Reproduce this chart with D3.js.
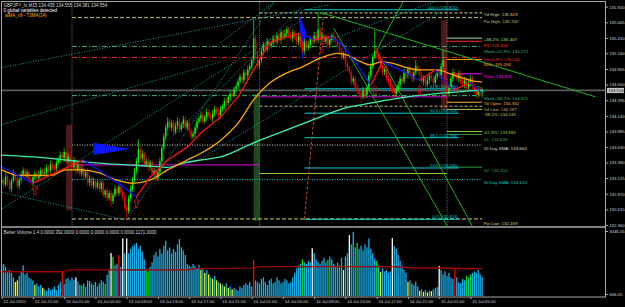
<!DOCTYPE html>
<html>
<head>
<meta charset="utf-8">
<script src="https://d3js.org/d3.v7.min.js"></script>
<style>
html, body { margin: 0; padding: 0; background: #000; }
svg { display: block; }
text { font-family: "Liberation Sans", Arial, sans-serif; }
</style>
</head>
<body>
<svg id="chart" width="625" height="307"></svg>
<script>
// ---- data (GBPJPY M15, 12-15 Jul 2010) ----
const firstBar = '2010-07-12T17:00';
const firstOpen = 133.05;
const closes = [
  133.10,133.02,133.15,133.05,132.95,133.08,133.20,133.12,133.00,133.10,
  133.18,133.25,133.15,133.22,133.10,133.05,133.14,133.20,133.12,133.18,
  133.25,133.20,133.22,133.30,133.25,133.35,133.30,133.28,133.38,133.42,
  133.50,133.45,133.55,133.40,133.48,133.38,133.30,133.42,133.25,133.35,
  133.20,133.28,133.15,133.22,133.05,133.12,133.00,133.08,132.98,133.05,
  132.95,133.05,132.85,132.92,132.80,132.88,132.75,132.85,132.95,132.88,
  132.98,132.90,132.82,132.65,132.58,132.80,132.95,133.10,133.25,133.40,
  133.60,133.45,133.52,133.35,133.40,133.30,133.38,133.20,133.25,133.12,
  133.22,133.40,133.62,133.80,133.95,134.05,133.95,134.02,133.88,133.98,
  134.05,133.92,134.00,134.08,133.95,134.03,133.90,133.80,133.85,133.95,
  134.05,134.10,134.15,134.05,134.12,134.20,134.15,134.10,134.18,134.25,
  134.20,134.15,134.25,134.30,134.38,134.35,134.45,134.50,134.48,134.58,
  134.62,134.70,134.78,134.72,134.85,134.80,134.90,134.95,135.05,135.40,
  135.15,134.95,135.05,135.20,135.30,135.22,135.35,135.28,135.32,135.40,
  135.35,135.45,135.38,135.50,135.42,135.48,135.55,135.45,135.40,135.50,
  135.42,135.35,135.45,135.30,135.20,135.35,135.25,135.30,135.40,135.35,
  135.45,135.38,135.55,135.40,135.45,135.35,135.42,135.30,135.38,135.45,
  135.40,135.35,135.28,135.20,135.10,135.15,135.00,134.92,134.85,134.70,
  134.75,134.60,134.55,134.50,134.45,134.55,134.48,134.60,134.80,134.95,
  135.10,135.20,135.15,135.05,134.95,134.85,134.90,134.75,134.70,134.60,
  134.55,134.50,134.58,134.65,134.75,134.70,134.85,134.80,134.90,134.82,
  134.75,134.85,134.95,134.90,134.80,134.70,134.75,134.65,134.72,134.80,
  134.75,134.68,134.78,134.85,134.80,134.95,135.05,134.70,134.50,134.60,
  134.75,134.85,134.80,134.75,134.82,134.70,134.65,134.72,134.60,134.68,
  134.75,134.62,134.55,134.48,134.58,134.50,134.55
];
// wick lengths in pips above / below the body
const wickUp = [
  5,4,6,3,5,4,6,3,5,4, 6,5,4,5,3,6,4,5,4,6, 5,4,6,5,4,6,5,4,6,5, 6,5,6,4,5,6,4,5,3,5,
  4,6,5,4,6,5,4,6,3,5, 6,4,5,3,6,4,5,4,6,5, 4,5,3,6,4,5,6,5,4,6, 16,5,6,4,5,6,4,5,4,6,
  5,6,4,5,6,7,5,6,4,5, 6,5,4,6,5,4,6,5,4,6, 5,4,6,5,4,6,5,4,6,5, 4,6,5,4,6,5,4,6,5,4,
  6,5,4,6,5,4,6,5,4,32, 6,5,4,6,5,4,6,5,4,6, 5,4,6,5,4,6,5,4,6,5, 4,6,5,4,6,5,4,6,5,4,
  6,5,29,4,6,5,4,6,5,4, 6,5,4,6,5,4,6,5,4,6, 5,4,6,5,4,6,5,4,6,5, 4,34,5,4,6,5,4,6,5,4,
  6,5,4,6,5,4,6,5,4,6, 5,4,10,5,4,6,5,4,6,5, 4,6,5,4,6,5,16,4,6,5, 4,6,5,4,6,5,4,6,5,4,
  6,5,4,6,5,4,6
];
const wickDn = [
  4,6,3,5,4,6,3,5,4,6, 5,4,6,3,5,4,6,5,4,5, 4,6,5,4,6,5,4,6,5,4, 5,4,6,5,4,6,5,4,6,5,
  4,5,6,4,5,6,4,5,6,4, 5,6,4,5,6,4,10,5,4,6, 5,4,6,5,13,4,6,5,4,6, 5,4,6,5,4,6,5,4,6,5,
  4,6,5,4,6,5,4,6,5,4, 6,5,4,6,5,4,6,5,4,6, 5,4,6,5,4,6,5,4,6,5, 4,6,5,4,6,5,4,6,5,4,
  6,5,4,6,5,4,6,5,4,6, 5,6,4,5,6,4,5,6,4,5, 6,5,4,6,5,4,6,5,4,6, 5,4,6,5,4,6,5,4,6,5,
  4,6,5,4,6,5,4,6,5,4, 6,5,4,6,5,4,6,5,4,6, 5,4,6,5,10,4,6,5,4,6, 5,4,6,5,4,6,5,4,6,5,
  4,8,5,4,6,5,4,6,5,4, 6,5,4,6,5,4,6,5,4,6, 5,4,6,5,4,6,5,4,12,5, 4,6,5,4,6,5,4,6,5,4,
  6,5,4,6,5,4,6
];
const volumes = [
  1900,1950,1850,1700,1750,1650,1500,1350,1400,1550, 1700,1900,1600,1650,1500,1450,1400,1250,1300,1200,
  1250,1150,1100,1050,1150,1080,1120,1200,1080,1250, 1350,1680,1280,1450,1480,1400,1500,1420,1500,1350,
  1250,1230,1300,1180,1400,1380,1300,1250,1350,1200, 1300,1400,1350,1280,1580,1750,2310,2180,1900,1950,
  2250,1850,2800,2300,2800,2300,2450,2550,2600,2650, 2450,2550,2350,2100,1750,1700,1850,2000,2250,2350,
  2200,2450,2300,2550,2720,2400,2500,2300,2450,2350, 2600,2780,2500,2400,2250,1950,1900,1850,1950,1880,
  1800,1920,1750,1800,1650,1750,1600,1500,1450,1550, 1400,1350,1300,1250,1200,1300,1150,1200,1100,1150,
  1100,1050,1200,1150,1250,1300,1250,1350,1200,2080, 1400,1350,1300,1450,1500,1350,1250,1400,1450,1300,
  1350,1500,1400,1300,1350,1450,1400,1300,1350,1500, 1650,1800,1900,1950,2100,2000,1950,2050,2000,2470,
  2310,2100,2000,1950,2050,2150,2000,2080,2200,2100, 1950,1850,2000,1900,2150,1750,2200,2300,2910,2600,
  3020,2500,2650,2450,2550,2400,2600,2500,2800,2450, 2300,2150,2050,1900,1680,1800,1700,1750,1650,1700,
  2810,2550,2450,2250,2050,1900,1750,1650,1350,1400, 1300,1250,1350,1200,1050,1100,1020,1080,1000,1060,
  1040,1100,1150,1180,1880,1750,1600,1700,1550,1650, 1500,1450,1770,1500,1350,1300,1450,1400,1550,1500,
  1600,1650,1700,1650,1750,1600,1500
];
const yellowBars = [7,8,17,21,102,104,106,108,110,112,114,116,118,175,194,208,214,216,218,220];
const greenBars = [41,53,57,74,75,154,167,182,192,238,240];
const whiteBars = [38,56,62,64,159,178,200,224];
const redBars = [31,60,129,232];
const volMaBars = [0,30,35,95,100,128,132,200,210,246];
const volMaValues = [1690,1690,1750,1750,1800,1810,1860,1860,1820,1790];

// moving averages: bar index / price
const fastMaBars = [0,16,30,42,50,61,69,76,85,95,102,112,121,129,137,146,153,160,168,173,181,189,195,204,214,222,231,240,246];
const fastMaValues = [133.31,133.04,133.25,133.42,133.25,133.01,132.82,133.14,133.42,133.63,133.86,134.12,134.45,134.89,135.33,135.43,135.49,135.38,135.43,135.34,135.02,134.64,135.02,134.89,134.72,134.89,134.56,134.68,134.51];
const midMaBars = [0,9,25,33,40,50,59,67,76,85,95,102,112,121,129,137,146,154,163,172,177,184,189,194,200,208,214,223,231,240,246];
const midMaValues = [133.26,133.17,133.17,133.26,133.26,133.21,133.09,133.04,133.09,133.26,133.42,133.53,133.74,134.02,134.40,134.67,134.84,134.94,135.08,135.16,135.13,135.02,134.97,135.02,135.00,134.92,134.89,134.89,134.81,134.72,134.69];
const slowMaBars = [0,16,33,50,64,76,85,93,102,112,129,146,163,177,184,198,208,225,246];
const slowMaValues = [133.50,133.47,133.42,133.37,133.34,133.32,133.30,133.37,133.42,133.47,133.70,133.91,134.12,134.28,134.32,134.40,134.45,134.51,134.56];

const dayStarts = ['2010-07-13T02:00','2010-07-14T02:00','2010-07-15T02:00'];
const bid = 134.554;
const priceTicks = [135.920,135.665,135.410,135.160,134.905,134.650,134.395,134.140,133.885,133.630,133.380,133.125,132.870,132.615,132.360];
const volTicks = [946.05, 3046.05];

const levelNames = ['Yd High','Pw High','+38.2%','R1','Week+61.8%','Week R1','50%','Pivot','Week+38.2%','Td Open','Yd Low','-38.2%','-61.8%','S1','20 Day SMA','S2','50 Day SMA','Pw Low'];
const levelValues = [135.819,135.742,135.407,135.356,135.272,135.092,135.058,134.826,134.470,134.362,134.297,134.245,133.885,133.838,133.664,133.304,133.103,132.459];
// earlier-day pivot / support lines: from, to, price, kind
const pastLevels = [
  ['2010-07-13T02:00','2010-07-14T02:00',133.34,'pivot'],
  ['2010-07-14T02:00','2010-07-15T02:00',134.45,'pivot'],
  ['2010-07-14T02:00','2010-07-15T02:00',133.20,'s2']
];

const fibRatios = ['100.0','61.8','50.0','38.2','23.6','0.0'];
const fibPrices = [135.870,134.581,134.183,133.784,133.290,132.453];
const fibFrom = '2010-07-14T07:45', fibTo = '2010-07-15T03:30', fibHighTime = '2010-07-14T10:15';

// chart objects: [time1, price1, time2, price2]
const channelLines = [
  ['2010-07-12T16:45',134.92,'2010-07-14T11:00',135.95],
  ['2010-07-12T16:45',133.99,'2010-07-13T21:00',135.02],
  ['2010-07-12T16:45',132.60,'2010-07-14T07:15',135.69],
  ['2010-07-13T09:00',132.44,'2010-07-14T04:00',136.03],
  ['2010-07-12T16:45',132.90,'2010-07-13T09:00',132.44],
  ['2010-07-13T18:30',133.44,'2010-07-15T01:00',135.82],
  ['2010-07-13T14:30',133.75,'2010-07-14T07:30',135.92],
  ['2010-07-13T21:00',135.33,'2010-07-14T04:15',136.03],
  ['2010-07-14T11:00',135.38,'2010-07-15T01:00',136.03]
];
const greenLines = [
  ['2010-07-14T11:30',135.57,'2010-07-15T02:00',132.35],
  ['2010-07-14T17:00',135.21,'2010-07-15T05:15',132.34],
  ['2010-07-14T17:00',135.21,'2010-07-14T20:30',136.03],
  ['2010-07-14T09:45',135.83,'2010-07-15T21:00',134.45]
];
const bluePolys = [
  [['2010-07-13T04:45',133.70],['2010-07-13T09:30',133.60],['2010-07-13T04:45',133.50]],
  [['2010-07-14T07:00',135.82],['2010-07-14T08:00',135.49],['2010-07-14T07:30',135.05],['2010-07-14T07:15',135.36]]
];
// highlighted hour before each day break: from, to, top, bottom, direction
const boxes = [
  ['2010-07-13T01:15','2010-07-13T02:00',133.99,132.60,'down'],
  ['2010-07-14T01:15','2010-07-14T02:00',134.50,132.43,'up'],
  ['2010-07-15T01:15','2010-07-15T02:00',135.70,134.23,'down']
];
const arrowTimes = ['2010-07-12T21:15','2010-07-13T10:15','2010-07-14T10:00','2010-07-14T16:45','2010-07-14T22:30'];
const arrowPrices = [133.01,132.80,135.33,134.64,134.64];

// ---- styles ----
const levelStyle = {
  'Yd High':    { color: '#D8D090', dash: '3,2', from: 1, dy: 1.8 },
  'Pw High':    { color: '#B8C070', dash: '4,2', from: 0, dy: 3.6 },
  '+38.2%':     { color: '#8FE08F', dash: null, from: 2, dy: 1.4 },
  'R1':         { color: '#FF2A2A', dash: null, from: 2, dy: 4.2 },
  'Week+61.8%': { color: '#3CB371', dash: '5,2,1,2', from: 0, dy: 4.6 },
  'Week R1':    { color: '#E8282C', dash: '5,2,1,2', from: 0, dy: 1.6 },
  '50%':        { color: '#FFA500', dash: null, from: 2, dy: 5.2 },
  'Pivot':      { color: '#FF00FF', dash: null, from: 2, dy: 3 },
  'Week+38.2%': { color: '#3CB371', dash: '5,2,1,2', from: 0, dy: 3.2 },
  'Td Open':    { color: '#FFB02E', dash: null, from: 2, dy: 1.6 },
  'Yd Low':     { color: '#BDB76B', dash: '3,2', from: 1, dy: 2.8 },
  '-38.2%':     { color: '#C2C25A', dash: null, from: 2, dy: 4.8 },
  '-61.8%':     { color: '#9ACD32', dash: null, from: 2, dy: 1.4 },
  'S1':         { color: '#2E9E3E', dash: null, from: 2, dy: 4.8 },
  '20 Day SMA': { color: '#D8D8D8', dash: '1,1.5', from: 0, dy: 3.3 },
  'S2':         { color: '#2E9E3E', dash: null, from: 2, dy: 3.5 },
  '50 Day SMA': { color: '#00CED1', dash: '1,1.5', from: 0, dy: 3.3 },
  'Pw Low':     { color: '#D8CC80', dash: '4,2', from: 0, dy: 4.3 }
};
const UP = '#00FF00', DOWN = '#FF0000';

// ---- scales ----
const parse = s => new Date(s + ':00Z');
const t0 = parse(firstBar);
const barTime = i => d3.utcMinute.offset(t0, 15 * i);
const lastTime = barTime(closes.length - 1);

const x = d3.scaleUtc()
  .domain([parse(dayStarts[0]), parse(dayStarts[2])])
  .range([72, 447]);
const y = d3.scaleLinear().domain([132.36, 135.92]).range([225, 6.7]);
const yVol = d3.scaleLinear().domain([946.05, 3046.05]).range([294, 231]);

const L = 2, R = 605, mainBottom = 226, volTop = 228, volBottom = 296;

const svg = d3.select('#chart');
svg.append('rect').attr('width', 625).attr('height', 307).attr('fill', '#000');

const defs = svg.append('defs');
defs.append('clipPath').attr('id', 'clipMain')
  .append('rect').attr('x', L).attr('y', 2).attr('width', R - L).attr('height', mainBottom - 2);
defs.append('clipPath').attr('id', 'clipVol')
  .append('rect').attr('x', L).attr('y', volTop).attr('width', R - L).attr('height', volBottom - volTop);

const main = svg.append('g').attr('clip-path', 'url(#clipMain)');

// session boxes
main.selectAll('rect.box').data(boxes).join('rect')
  .attr('x', d => x(parse(d[0])))
  .attr('width', d => x(parse(d[1])) - x(parse(d[0])))
  .attr('y', d => y(d[2]))
  .attr('height', d => y(d[3]) - y(d[2]))
  .attr('fill', d => d[4] === 'up' ? '#1C4A1E' : '#4E1818');

// day separators
main.selectAll('line.sep').data(dayStarts).join('line')
  .attr('x1', d => x(parse(d))).attr('x2', d => x(parse(d)))
  .attr('y1', 2).attr('y2', mainBottom)
  .attr('stroke', '#8a8a8a').attr('stroke-width', 0.8).attr('stroke-dasharray', '1,1.2');

// bid line
main.append('line')
  .attr('x1', L).attr('x2', R).attr('y1', y(bid)).attr('y2', y(bid))
  .attr('stroke', '#5c5c5c').attr('stroke-width', 1.8);

// earlier-day levels
main.selectAll('line.past').data(pastLevels).join('line')
  .attr('x1', d => x(parse(d[0]))).attr('x2', d => x(parse(d[1])))
  .attr('y1', d => y(d[2])).attr('y2', d => y(d[2]))
  .attr('stroke', d => d[3] === 'pivot' ? '#E000E0' : '#9ACD32')
  .attr('stroke-width', 1);

// current levels
const levels = levelNames.map((n, i) => ({ name: n, value: levelValues[i], st: levelStyle[n] }));
main.selectAll('line.level').data(levels).join('line')
  .attr('x1', d => x(parse(dayStarts[d.st.from]))).attr('x2', x(lastTime))
  .attr('y1', d => y(d.value)).attr('y2', d => y(d.value))
  .attr('stroke', d => d.st.color)
  .attr('stroke-width', 1)
  .attr('stroke-dasharray', d => d.st.dash);

// fibonacci retracement
const fib = fibRatios.map((r, i) => ({ ratio: r, price: fibPrices[i] }));
main.selectAll('line.fib').data(fib).join('line')
  .attr('x1', x(parse(fibFrom))).attr('x2', x(parse(fibTo)))
  .attr('y1', d => y(d.price)).attr('y2', d => y(d.price))
  .attr('stroke', '#00CED1').attr('stroke-width', 1);
main.append('line')
  .attr('x1', x(parse(fibFrom))).attr('y1', y(fibPrices[5]))
  .attr('x2', x(parse(fibHighTime))).attr('y2', y(fibPrices[0]))
  .attr('stroke', '#C8501E').attr('stroke-width', 1).attr('stroke-dasharray', '3,2');
main.selectAll('text.fib').data(fib).join('text')
  .attr('x', x(parse(fibTo)) - 1).attr('y', d => y(d.price) - 0.8)
  .attr('text-anchor', 'end').attr('font-size', 4.3).attr('fill', '#00CED1')
  .text(d => `${d.ratio} (${d.price.toFixed(3)})`);

// channel lines and trend lines
main.selectAll('line.chan').data(channelLines).join('line')
  .attr('x1', d => x(parse(d[0]))).attr('y1', d => y(d[1]))
  .attr('x2', d => x(parse(d[2]))).attr('y2', d => y(d[3]))
  .attr('stroke', '#20B2AA').attr('stroke-width', 0.9).attr('stroke-dasharray', '1,1.6');
main.selectAll('line.trend').data(greenLines).join('line')
  .attr('x1', d => x(parse(d[0]))).attr('y1', d => y(d[1]))
  .attr('x2', d => x(parse(d[2]))).attr('y2', d => y(d[3]))
  .attr('stroke', '#1DB31D').attr('stroke-width', 1);

main.selectAll('path.poly').data(bluePolys).join('path')
  .attr('d', d => 'M' + d.map(p => [x(parse(p[0])), y(p[1])].join(',')).join('L') + 'Z')
  .attr('fill', '#0A14FF');

// candles
const bars = closes.map((c, i) => {
  const o = i ? closes[i - 1] : firstOpen;
  return { t: barTime(i), o, c,
    h: Math.max(o, c) + wickUp[i] / 100,
    l: Math.min(o, c) - wickDn[i] / 100 };
});
const candle = main.append('g').selectAll('g').data(bars).join('g');
candle.append('line')
  .attr('x1', d => x(d.t)).attr('x2', d => x(d.t))
  .attr('y1', d => y(d.h)).attr('y2', d => y(d.l))
  .attr('stroke', d => d.c >= d.o ? UP : DOWN).attr('stroke-width', 0.7);
candle.append('rect')
  .attr('x', d => x(d.t) - 0.7).attr('width', 1.4)
  .attr('y', d => y(Math.max(d.o, d.c)))
  .attr('height', d => Math.max(0.8, Math.abs(y(d.o) - y(d.c))))
  .attr('fill', d => d.c >= d.o ? UP : DOWN);

// moving averages
const maLine = d3.line().x(d => x(barTime(d[0]))).y(d => y(d[1])).curve(d3.curveMonotoneX);
main.append('path').datum(slowMaBars.map((b, i) => [b, slowMaValues[i]]))
  .attr('d', maLine).attr('fill', 'none').attr('stroke', '#3CF0A8').attr('stroke-width', 1.3);
main.append('path').datum(midMaBars.map((b, i) => [b, midMaValues[i]]))
  .attr('d', maLine).attr('fill', 'none').attr('stroke', '#FFA800').attr('stroke-width', 1.3);
const fastPts = fastMaBars.map((b, i) => [b, fastMaValues[i]]);
main.selectAll('line.fast').data(d3.pairs(fastPts)).join('line')
  .attr('x1', d => x(barTime(d[0][0]))).attr('y1', d => y(d[0][1]))
  .attr('x2', d => x(barTime(d[1][0]))).attr('y2', d => y(d[1][1]))
  .attr('stroke', d => d[1][1] >= d[0][1] ? '#FF1010' : '#1010FF')
  .attr('stroke-width', 1.3).attr('stroke-linecap', 'round');

// signal arrows
main.selectAll('path.arrow').data(arrowTimes.map((t, i) => [t, arrowPrices[i]])).join('path')
  .attr('transform', d => `translate(${x(parse(d[0]))},${y(d[1])})`)
  .attr('d', 'M0,0L3,4L1.2,4L1.2,9.5L-1.2,9.5L-1.2,4L-3,4Z')
  .attr('fill', 'none').attr('stroke', '#E01010').attr('stroke-width', 0.8);

// level labels
const labelX = x(lastTime) + 1.5;
svg.selectAll('text.level').data(levels).join('text')
  .attr('x', labelX).attr('y', d => y(d.value) + d.st.dy)
  .attr('dy', '0.35em').attr('font-size', 4.4)
  .attr('fill', d => d.st.color)
  .text(d => `${d.name}: ${d.value.toFixed(3)}`);

// ---- volume pane ----
const volColor = i => yellowBars.includes(i) ? '#FFFF00'
  : greenBars.includes(i) ? '#00E000'
  : whiteBars.includes(i) ? '#FFFFFF'
  : redBars.includes(i) ? '#FF0000' : '#19AEE8';
const vol = svg.append('g').attr('clip-path', 'url(#clipVol)');
vol.selectAll('rect').data(volumes).join('rect')
  .attr('x', (d, i) => x(barTime(i)) - 0.65).attr('width', 1.3)
  .attr('y', d => yVol(d)).attr('height', d => volBottom - yVol(d))
  .attr('fill', (d, i) => volColor(i));
vol.append('path').datum(volMaBars.map((b, i) => [b, volMaValues[i]]))
  .attr('d', d3.line().x(d => x(barTime(d[0]))).y(d => yVol(d[1])))
  .attr('fill', 'none').attr('stroke', '#A00000').attr('stroke-width', 1.4);

// ---- frame & axes ----
const frame = svg.append('g').attr('stroke', '#A8A8A8').attr('fill', 'none');
frame.append('path').attr('d', `M${L - 0.5},1V${volBottom + 0.5}`).attr('stroke-width', 1);
frame.append('path').attr('d', `M1,1.5H${R}`).attr('stroke-width', 1);
frame.append('path').attr('d', `M${R + 0.5},1V${volBottom + 1}`).attr('stroke-width', 1);
frame.append('path').attr('d', `M1,${mainBottom + 1}H${R + 1}`).attr('stroke-width', 1.6);
frame.append('path').attr('d', `M1,${volBottom + 1}H${R + 1}`).attr('stroke-width', 1.2);

const priceAxis = svg.append('g').attr('transform', `translate(${R + 0.5},0)`)
  .call(d3.axisRight(y).tickValues(priceTicks).tickFormat(d3.format('.3f')).tickSize(2.5).tickPadding(1.2));
const volAxis = svg.append('g').attr('transform', `translate(${R + 0.5},0)`)
  .call(d3.axisRight(yVol).tickValues(volTicks).tickFormat(d3.format('.2f')).tickSize(2.5).tickPadding(1.2));
[priceAxis, volAxis].forEach(a => {
  a.select('.domain').remove();
  a.selectAll('line').attr('stroke', '#A8A8A8');
  a.selectAll('text').attr('fill', '#D4D4D4').attr('font-size', 4.3)
    .attr('font-family', '"Liberation Sans", Arial, sans-serif');
});

// bid price tag
const tag = svg.append('g').attr('transform', `translate(${R + 1},${y(bid)})`);
tag.append('rect').attr('x', 1).attr('y', -2.6).attr('width', 17).attr('height', 5.2).attr('fill', '#C8C8C8');
tag.append('text').attr('x', 2.2).attr('dy', '0.35em').attr('font-size', 4.3).attr('fill', '#000')
  .text(d3.format('.3f')(bid));

const timeTicks = [t0].concat(d3.utcHour.range(parse('2010-07-12T21:00'), d3.utcMinute.offset(lastTime, 1), 4));
const timeAxis = svg.append('g').attr('transform', `translate(0,${volBottom + 1})`)
  .call(d3.axisBottom(x).tickValues(timeTicks).tickSize(2).tickPadding(1)
    .tickFormat(d => +d === +t0 ? d3.utcFormat('%d %b %Y')(d) : d3.utcFormat('%d %b %H:%M')(d)));
timeAxis.select('.domain').remove();
timeAxis.selectAll('line').attr('stroke', '#A8A8A8');
timeAxis.selectAll('text').attr('text-anchor', 'start').attr('x', 1.2)
  .attr('fill', '#D4D4D4').attr('font-size', 4.3)
  .attr('font-family', '"Liberation Sans", Arial, sans-serif');

// ---- titles ----
const title = svg.append('g').attr('font-size', 4.5);
title.append('text').attr('x', 3.5).attr('y', 7.3).attr('fill', '#D8D8D8')
  .text('GBPJPY_fx,M15  134.435 134.555 134.381 134.554');
title.append('text').attr('x', 3.5).attr('y', 12.3).attr('fill', '#FFFFFF')
  .text('0 global variables detected');
title.append('text').attr('x', 5).attr('y', 16.8).attr('fill', '#FFA500')
  .text('alMA_v9 - T3MA(14)');
title.append('text').attr('x', 3.5).attr('y', 234.3).attr('fill', '#D8D8D8')
  .text('Better Volume 1.4 0.0000 392.0000 0.0000 0.0000 0.0000 0.0000 1171.0000');
</script>
</body>
</html>
